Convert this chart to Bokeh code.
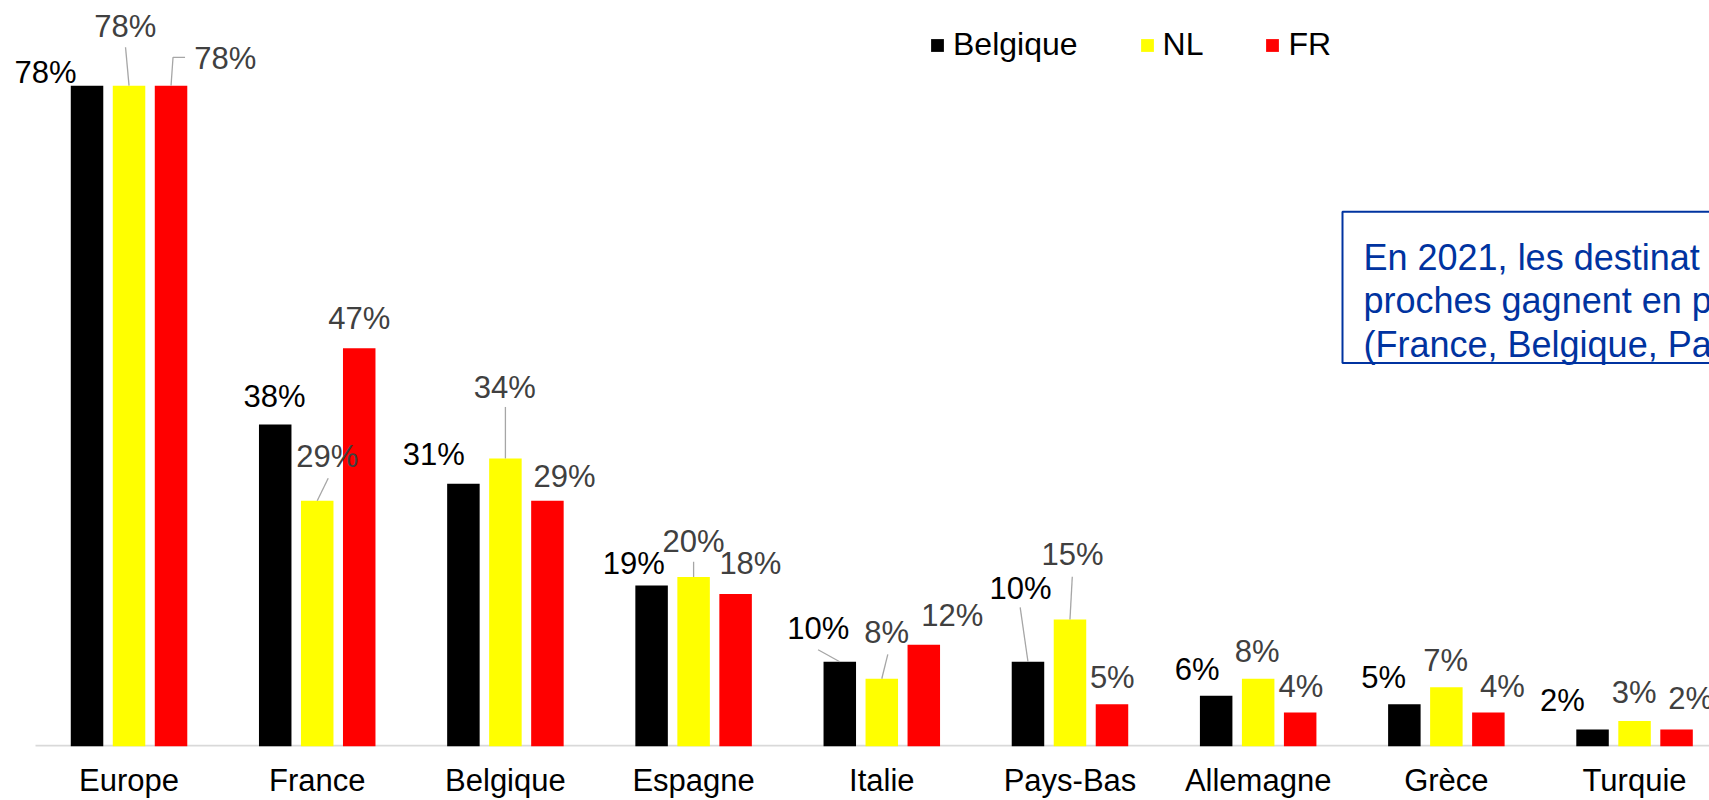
from bokeh.plotting import figure
from bokeh.models import FixedTicker, Range1d, Legend, LegendItem, ColumnDataSource, BoxAnnotation, Label
from bokeh.core.properties import value
from bokeh.embed import file_html
from bokeh.resources import INLINE

# ---------------- data ----------------
categories = ["Europe", "France", "Belgique", "Espagne", "Italie",
              "Pays-Bas", "Allemagne", "Grèce", "Turquie"]
series_names = ["Belgique", "NL", "FR"]
belgique = [78, 38, 31, 19, 10, 10, 6, 5, 2]
nl = [78, 29, 34, 20, 8, 15, 8, 7, 3]
fr = [78, 47, 29, 18, 12, 5, 4, 4, 2]
note_lines = ["En 2021, les destinat", "proches gagnent en p", "(France, Belgique, Pa"]

# ---------------- style ----------------
bar_colors = ["#000000", "#FFFF00", "#FF0000"]
label_colors = ["#000000", "#404040", "#404040"]
note_color = "#0033A0"
FONT = "Liberation Sans"

# label offsets in px from bar top centre: (dx right, dy up)
off_b = [(-41.5, 13), (-0.8, 28), (-29.6, 28.9), (-17.8, 21.6), (-21.4, 33.5),
         (-7.5, 73.4), (-18.9, 26), (-20.7, 26.8), (-30.2, 29.3)]
off_nl = [(-3.8, 59.5), (10, 44.3), (-0.7, 71), (0, 35.9), (4.9, 45.8),
          (2.5, 64.5), (-0.9, 27.6), (-0.6, 26.2), (-0.5, 29)]
off_fr = [(54.2, 27), (0, 29.7), (17.2, 24.1), (14.8, 30.1), (28.4, 29.8),
          (0.3, 26.8), (0.7, 26.6), (14.1, 26.6), (14, 30.6)]
# leader lines: (series index, category index, polyline in px offsets)
leaders = [
    (1, 0, [(0, 0), (-3.5, 38.3)]),
    (2, 0, [(0, 0), (2, 28.3), (14, 28.3)]),
    (1, 1, [(0, 0), (11, 22.6)]),
    (1, 2, [(0, 0), (0, 51.4)]),
    (1, 3, [(0, 0), (0, 15.2)]),
    (0, 4, [(0, 0), (-21.7, 12)]),
    (1, 4, [(0, 0), (6, 24.3)]),
    (0, 5, [(0, 0), (-7.8, 54.4)]),
    (1, 5, [(0, 0), (2.3, 42.6)]),
]

# ---------------- geometry ----------------
W, H = 1709, 800
FRAME_H = 745
PX_PER_CAT = 188.19
X_START = -0.497 - 35 / PX_PER_CAT
X_END = X_START + W / PX_PER_CAT
Y_END = 88.05
PX_PER_PCT = FRAME_H / Y_END
BAR_OFF = 0.2232
BAR_W = 0.1727
BASE_PAGE = FRAME_H


def px_x(page_x):
    return X_START + page_x / PX_PER_CAT


def px_y(page_y):
    return (BASE_PAGE - page_y) / PX_PER_PCT


p = figure(width=W, height=H, output_backend="svg", toolbar_location=None,
           x_range=Range1d(X_START, X_END), y_range=Range1d(0, Y_END),
           y_axis_location=None, min_border_left=0, min_border_right=0,
           min_border_top=0, min_border_bottom=0, outline_line_color=None)
p.xgrid.visible = False
p.ygrid.visible = False

# category baseline (starts a little right of the left edge, as in the source)
p.segment(x0=[px_x(35)], y0=[0], x1=[X_END], y1=[0], line_color="#D9D9D9", line_width=3.5)

all_vals = [belgique, nl, fr]
offsets = [-BAR_OFF, 0.0, BAR_OFF]
renderers = []
for s, vals in enumerate(all_vals):
    src = ColumnDataSource(dict(x=[i + offsets[s] for i in range(len(categories))], top=vals))
    r = p.vbar(x="x", top="top", width=BAR_W, bottom=0, source=src,
               fill_color=bar_colors[s], line_color=None)
    renderers.append(r)

# leader lines
xs, ys = [], []
for s, c, pts in leaders:
    bx = c + offsets[s]
    bv = all_vals[s][c]
    xs.append([bx + dx / PX_PER_CAT for dx, dy in pts])
    ys.append([bv + dy / PX_PER_PCT for dx, dy in pts])
p.multi_line(xs=xs, ys=ys, line_color="#A6A6A6", line_width=1.3)

# data labels
for s, (vals, offs) in enumerate(zip(all_vals, [off_b, off_nl, off_fr])):
    src = ColumnDataSource(dict(
        x=[i + offsets[s] for i in range(len(categories))],
        y=vals,
        text=[f"{v}%" for v in vals],
        dx=[o[0] for o in offs],
        dy=[-o[1] for o in offs],
    ))
    p.text(x="x", y="y", text="text", x_offset="dx", y_offset="dy", source=src,
           text_color=label_colors[s], text_align="center", text_baseline="middle",
           text_font=value(FONT), text_font_size="31px")

# axis
ax = p.xaxis[0]
ax.ticker = FixedTicker(ticks=list(range(len(categories))))
ax.major_label_overrides = {i: c for i, c in enumerate(categories)}
ax.major_tick_line_color = None
ax.minor_tick_line_color = None
ax.axis_line_color = None
ax.major_label_standoff = 10
ax.major_label_text_font = FONT
ax.major_label_text_font_size = "31px"
ax.major_label_text_line_height = 1.0
ax.major_label_text_color = "#000000"

# legend
legend = Legend(items=[LegendItem(label=n, renderers=[r]) for n, r in zip(series_names, renderers)],
                orientation="horizontal", location=(929, 683),
                label_text_font=FONT, label_text_font_size="32px", label_text_color="#000000",
                glyph_width=16, glyph_height=16, label_standoff=8, spacing=61,
                padding=0, margin=0, border_line_color=None, background_fill_alpha=0)
p.add_layout(legend)

# note box
box = BoxAnnotation(left=px_x(1342), right=px_x(1790), top=px_y(211), bottom=px_y(362),
                    fill_color="white", fill_alpha=1.0, line_color=note_color,
                    line_alpha=1.0, line_width=2)
p.add_layout(box)
for k, line in enumerate(note_lines):
    p.add_layout(Label(x=px_x(1363), y=px_y(256.7 + 43.3 * k), text=line,
                       text_color=note_color, text_font=FONT, text_font_size="36px",
                       text_baseline="alphabetic", text_align="left"))

open("out.html", "w").write(file_html(p, INLINE))
